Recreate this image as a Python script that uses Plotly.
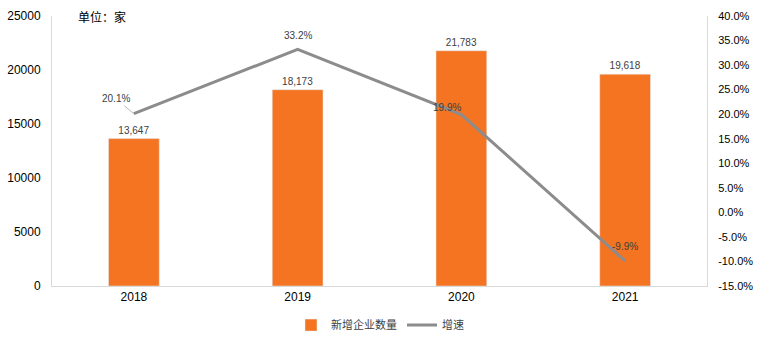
import plotly.graph_objects as go

years = ["2018", "2019", "2020", "2021"]
counts = [13647, 18173, 21783, 19618]
growth = [20.1, 33.2, 19.9, -9.9]
count_labels = ["13,647", "18,173", "21,783", "19,618"]
growth_labels = ["20.1%", "33.2%", "19.9%", "-9.9%"]
right_ticks = [40, 35, 30, 25, 20, 15, 10, 5, 0, -5, -10, -15]

ORANGE = "#F47421"
GRAY = "#8C8C8C"
FONT = "Liberation Sans, DejaVu Sans, sans-serif"
CJK = "Noto Sans CJK SC, sans-serif"

fig = go.Figure()
fig.add_trace(go.Bar(
    x=years, y=counts, name="新增企业数量", marker_color=ORANGE, width=0.31,
    text=count_labels, textposition="outside", cliponaxis=False,
    textfont=dict(family=FONT, size=10, color="#404040"),
    hoverinfo="skip",
))
fig.add_trace(go.Scatter(
    x=years, y=growth, name="增速", yaxis="y2", mode="lines",
    line=dict(color=GRAY, width=3), hoverinfo="skip",
))

# growth labels (x given as category index)
offsets = [(-18, -15, True), (0, -14, False), (-14, -7, False), (0, -14, False)]
for i, (g, lab, (ax, ay, arrow)) in enumerate(zip(growth, growth_labels, offsets)):
    if arrow:
        fig.add_annotation(x=i, y=g, xref="x", yref="y2", text=lab, showarrow=True,
                           ax=ax, ay=ay, arrowhead=0, arrowwidth=0.8, arrowcolor="#A6A6A6",
                           standoff=0, font=dict(family=FONT, size=10, color="#404040"))
    else:
        fig.add_annotation(x=i, y=g, xref="x", yref="y2", text=lab, showarrow=False,
                           xshift=ax, yshift=-ay, font=dict(family=FONT, size=10, color="#404040"))

fig.add_annotation(xref="x domain", yref="y domain", x=0.036, y=1.0,
                   xanchor="left", yanchor="middle", text="单位：家", showarrow=False,
                   font=dict(family=CJK, size=12, color="#000000"))

fig.update_layout(
    width=760, height=344,
    margin=dict(l=52, r=53, t=16, b=58),
    paper_bgcolor="white", plot_bgcolor="white",
    showlegend=True,
    legend=dict(orientation="h", x=0.5, xanchor="center", xref="container",
                y=0.055, yanchor="middle", yref="container",
                font=dict(family=CJK, size=11, color="#404040"), itemwidth=30,
                traceorder="normal"),
    xaxis=dict(type="category", showline=True, linecolor="#D9D9D9", linewidth=1,
               ticks="", tickfont=dict(family=FONT, size=12, color="#000000"),
               showgrid=False, range=[-0.5, 3.5], automargin=False),
    yaxis=dict(range=[0, 25000], dtick=5000, tickformat="d", showgrid=False, zeroline=False,
               showline=True, linecolor="#D9D9D9", linewidth=1, ticks="",
               tickfont=dict(family=FONT, size=12, color="#000000"),
               ticklabelstandoff=8, automargin=False),
    yaxis2=dict(overlaying="y", side="right", range=[-15, 40],
                tickvals=right_ticks, ticktext=[f"{v:.1f}%" for v in right_ticks],
                showgrid=False, zeroline=False, showline=True, linecolor="#D9D9D9",
                linewidth=1, ticks="", tickfont=dict(family=FONT, size=11, color="#000000"),
                ticklabelstandoff=8, automargin=False),
)

fig.write_html("out.html")
